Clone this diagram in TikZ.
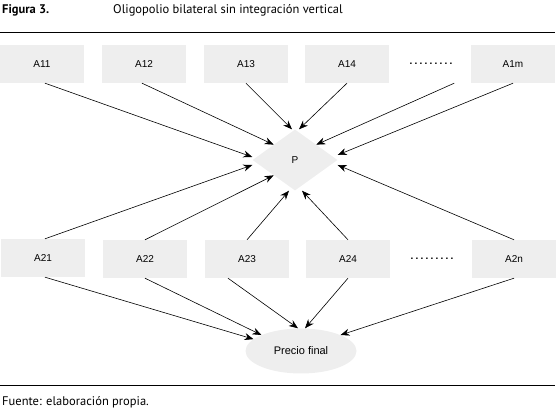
\documentclass[tikz,border=0pt]{standalone}
\usepackage{fontspec}
\setmainfont{Liberation Sans}
\newfontfamily\capfont{PT Sans}
\usetikzlibrary{arrows.meta,shapes.geometric}
\definecolor{boxgray}{RGB}{238,238,238}
\newcommand\gapdots{{\bfseries .\hspace{2.2pt}.\hspace{2.2pt}.\hspace{2.2pt}.\hspace{2.2pt}.%
  \hspace{2.2pt}.\hspace{2.2pt}.\hspace{2.2pt}.\hspace{2.2pt}.}}

\begin{document}
\begin{tikzpicture}[
  x=1pt, y=-1pt,
  font=\fontsize{10}{12}\selectfont,
  firm/.style={fill=boxgray, minimum width=84pt, minimum height=38pt,
               inner sep=0pt},
  gap/.style={minimum width=46pt, minimum height=38pt, inner sep=0pt},
  price/.style={diamond, fill=boxgray, minimum width=85pt,
                minimum height=61pt, inner sep=0pt},
  market/.style={ellipse, fill=boxgray, minimum width=111pt,
                 minimum height=45pt, inner sep=0pt,
                 font=\fontsize{11}{13}\selectfont},
  caption/.style={anchor=west, inner sep=0pt,
                  font=\capfont\fontsize{12.5}{15}\selectfont},
  flow/.style={-{Stealth[length=9pt, width=7pt]}, line width=0.6pt},
  rule/.style={line width=0.9pt},
]
  \useasboundingbox (0,0) rectangle (557,411);

  % caption and rules
  \node[caption] (fig) at (2,10) {\bfseries Figura 3.};
  \node[caption] (title) at (113,10) {Oligopolio bilateral sin integración vertical};
  \node[caption] (src) at (2,402) {Fuente: elaboración propia.};
  \draw[rule] (0,32) -- (555,32);
  \draw[rule] (0,385) -- (555,385);

  % upstream firms
  \node[firm] (a11) at (42,64)  {A11};
  \node[firm] (a12) at (144,64) {A12};
  \node[firm] (a13) at (246,64) {A13};
  \node[firm] (a14) at (347,64) {A14};
  \node[gap]  (dots1) at (431,64) {\gapdots};
  \node[firm] (a1m) at (513,64) {A1m};

  % downstream firms
  \node[firm] (a21) at (43,258)  {A21};
  \node[firm] (a22) at (145,259) {A22};
  \node[firm] (a23) at (247,259) {A23};
  \node[firm] (a24) at (348,259) {A24};
  \node[gap]  (dots2) at (432,259) {\gapdots};
  \node[firm] (a2n) at (514,259) {A2n};

  \node[price] (p) at (295,160) {P};
  \node[market] (precio) at (301,351) {Precio final};

  \draw[flow] ([xshift=3pt]a11.south) -- ([yshift=3pt]p.west);
  \draw[flow] ([xshift=-2pt]a12.south) -- (p.north west);
  \draw[flow] (a13.south) -- ([xshift=-3pt]p.north);
  \draw[flow] (a14.south) -- ([xshift=4pt]p.north);
  \draw[flow] (dots1.south east) -- (p.north east);
  \draw[flow] (a1m.south) -- ([yshift=5pt]p.east);

  \draw[flow] ([xshift=2pt]a21.north) -- ([yshift=-5pt]p.west);
  \draw[flow] (a22.north) -- (p.south west);
  \draw[flow] (a23.north) -- ([xshift=-6pt]p.south);
  \draw[flow] (a24.north) -- ([xshift=7pt]p.south);
  \draw[flow] (a2n.north) -- ([yshift=-5pt]p.east);

  \draw[flow] ([xshift=2pt]a21.south) -- (precio.166);
  \draw[flow] (a22.south) -- (precio.158);
  \draw[flow] ([xshift=-19pt]a23.south) -- ([xshift=-3pt]precio.north);
  \draw[flow] (a24.south) -- ([xshift=4pt]precio.north);
  \draw[flow] (a2n.south) -- (precio.22);
\end{tikzpicture}
\end{document}
